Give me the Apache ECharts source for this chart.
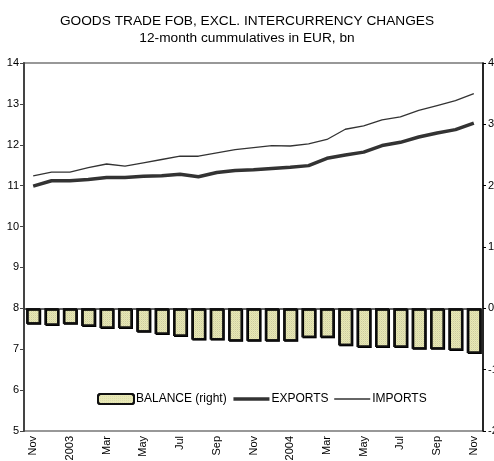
<!DOCTYPE html>
<html><head><meta charset="utf-8">
<script src="https://cdn.jsdelivr.net/npm/echarts@6/dist/echarts.min.js"></script>
<style>html,body{margin:0;padding:0;background:#fff}#c{width:494px;height:461px}</style>
</head><body><div id="c"></div>
<script>
var categories = ['Nov','Dec','2003','Feb','Mar','Apr','May','Jun','Jul','Aug','Sep','Oct','Nov','Dec','2004','Feb','Mar','Apr','May','Jun','Jul','Aug','Sep','Oct','Nov'];
var exportsData = [10.99,11.12,11.12,11.15,11.2,11.2,11.23,11.24,11.28,11.22,11.32,11.37,11.39,11.42,11.45,11.49,11.67,11.75,11.82,11.98,12.06,12.19,12.29,12.37,12.53];
var importsData = [11.24,11.33,11.33,11.44,11.53,11.48,11.56,11.64,11.72,11.72,11.8,11.88,11.93,11.98,11.97,12.02,12.13,12.38,12.46,12.61,12.68,12.84,12.96,13.08,13.25];
var balanceData = [-0.25,-0.27,-0.25,-0.29,-0.32,-0.32,-0.38,-0.42,-0.45,-0.51,-0.51,-0.53,-0.53,-0.53,-0.53,-0.47,-0.47,-0.6,-0.63,-0.63,-0.63,-0.66,-0.66,-0.68,-0.73];
var leftTicks = {min:5, max:14, interval:1};
var rightTicks = {min:-2, max:4, interval:1};

var FF = '"Liberation Sans", Arial, sans-serif';
var hidden = {color:'rgba(0,0,0,0)', borderWidth:0, opacity:0};
var chart = echarts.init(document.getElementById('c'), null, {renderer:'canvas'});
chart.setOption({
  animation:false,
  title:{
    text:'GOODS TRADE FOB, EXCL. INTERCURRENCY CHANGES\n12-month cummulatives in EUR, bn',
    left:'center', top:8,
    textStyle:{fontFamily:FF, fontSize:13.7, fontWeight:'normal', color:'#000', lineHeight:17}
  },
  grid:{left:24, right:11, top:63, bottom:30, show:true, borderColor:'#777', borderWidth:1.5, outerBoundsMode:'none', containLabel:false},
  legend:{
    left:97, top:393, padding:0, itemWidth:36, itemHeight:10, itemGap:5,
    textStyle:{fontFamily:FF, fontSize:12, color:'#000', padding:[0,0,0,-3]},
    data:[
      {name:'BALANCE (right)'},
      {name:'EXPORTS', itemStyle:hidden, lineStyle:{width:3.5, color:'#333'}},
      {name:'IMPORTS', itemStyle:hidden, lineStyle:{width:1.3, color:'#333'}}
    ]
  },
  xAxis:{
    type:'category', data:categories, boundaryGap:true,
    axisLine:{lineStyle:{color:'#333', width:1.5}},
    axisTick:{interval:0, length:4, lineStyle:{color:'#333'}},
    axisLabel:{interval:1, rotate:90, margin:5, fontFamily:FF, fontSize:11, color:'#000'}
  },
  yAxis:[
    {type:'value', min:leftTicks.min, max:leftTicks.max, interval:leftTicks.interval, splitLine:{show:false},
     axisLine:{show:true, lineStyle:{color:'#444', width:2}},
     axisTick:{show:true, length:4, lineStyle:{color:'#444'}},
     axisLabel:{margin:5, fontFamily:FF, fontSize:11, color:'#000'}},
    {type:'value', min:rightTicks.min, max:rightTicks.max, interval:rightTicks.interval, splitLine:{show:false}, position:'right',
     alignTicks:false,
     axisLine:{show:true, lineStyle:{color:'#000', width:1.5}},
     axisTick:{show:true, length:3, lineStyle:{color:'#000'}},
     axisLabel:{margin:5, fontFamily:FF, fontSize:11, color:'#000'}}
  ],
  series:[
    {name:'BALANCE (right)', type:'bar', yAxisIndex:1, data:balanceData, barWidth:14,
     itemStyle:{color:'#e8e8b6', borderColor:'#111', borderWidth:1.5,
       shadowColor:'rgba(0,0,0,0.35)', shadowOffsetX:1, shadowOffsetY:1, shadowBlur:0,
       decal:{symbol:'rect', symbolSize:0.6, color:'rgba(140,140,80,0.4)', dashArrayX:[1,1], dashArrayY:[1,1], rotation:0}}},
    {name:'EXPORTS', type:'line', data:exportsData, symbol:'none', lineStyle:{color:'#333', width:3.5}, itemStyle:{color:'#333'}},
    {name:'IMPORTS', type:'line', data:importsData, symbol:'none', lineStyle:{color:'#333', width:1.3}, itemStyle:{color:'#333'}}
  ]
});
</script></body></html>
